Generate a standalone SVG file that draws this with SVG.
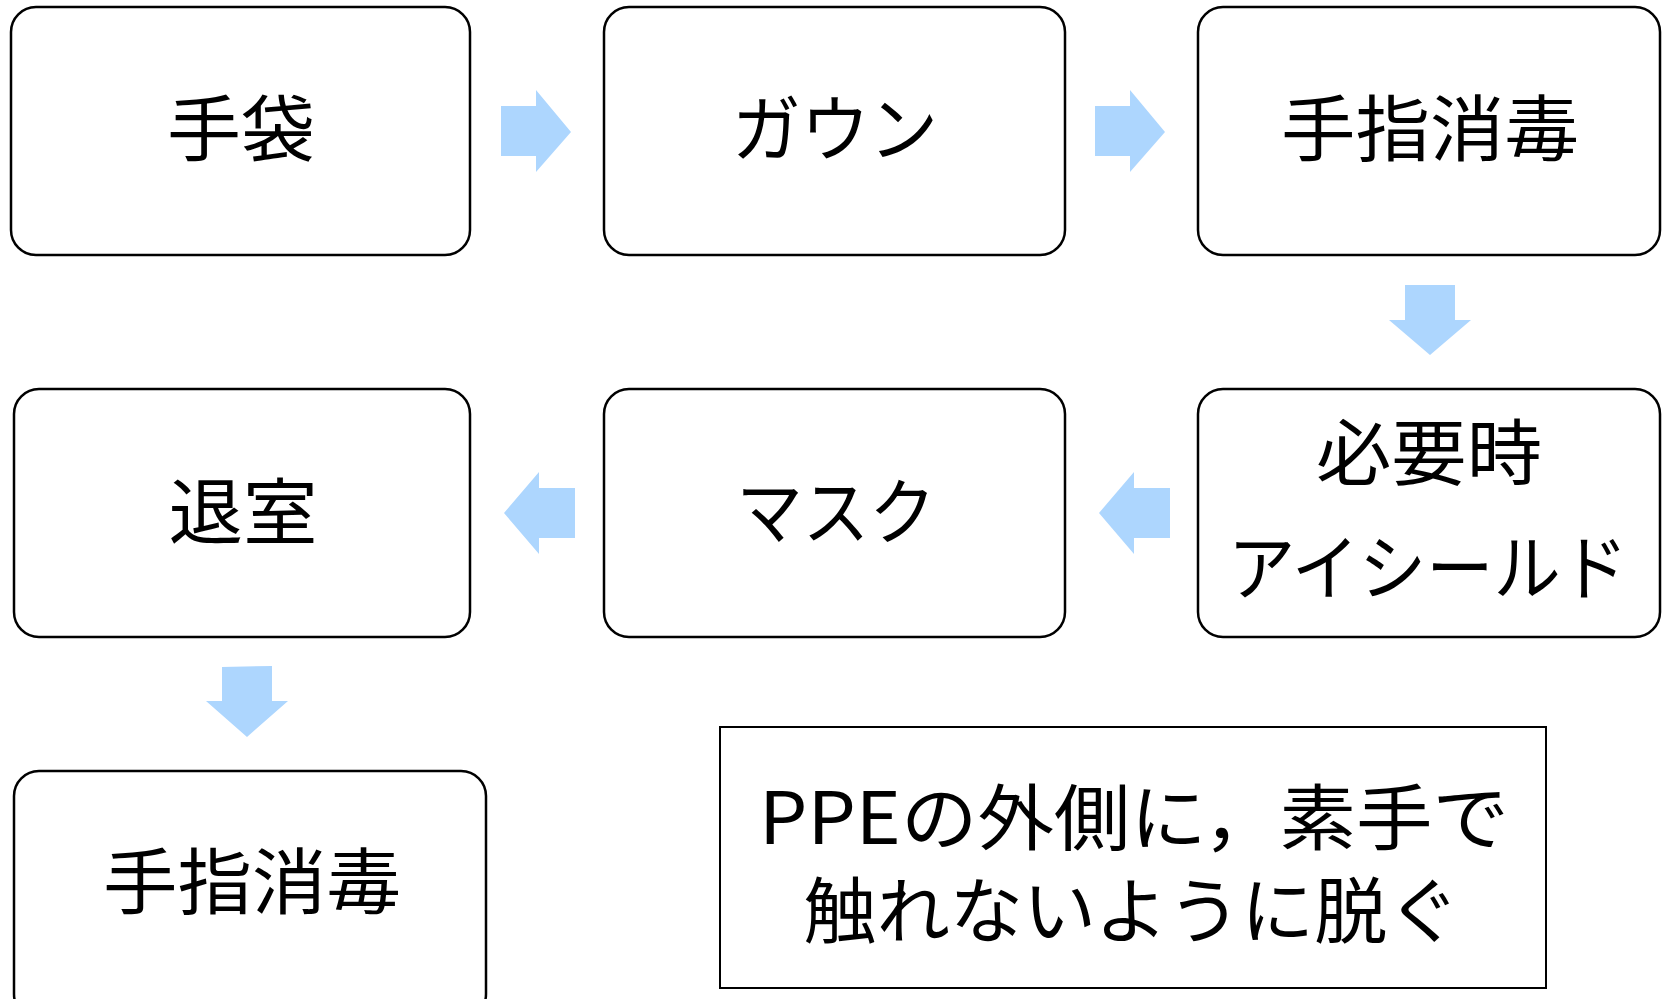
<svg xmlns="http://www.w3.org/2000/svg" width="1665" height="999" viewBox="0 0 1665 999">
<style>
.box{fill:#fff;stroke:#000;stroke-width:2.5}
.note{fill:#fff;stroke:#000;stroke-width:2}
.t{font-family:"Noto Sans CJK JP","Noto Sans",sans-serif;font-size:72px;fill:#000;text-anchor:middle}
.arr{fill:#ADD6FE}
</style>
<rect width="1665" height="999" fill="#fff"/>
<g id="connectors">
<polygon class="arr" points="501,106 536,106 536,90 571,132 536,172 536,156 501,156"/>
<polygon class="arr" points="1095,106 1130,106 1130,90 1165,132 1130,172 1130,156 1095,156"/>
<polygon class="arr" points="1405,285 1455,285 1455,320 1471,320 1430,355 1389,320 1405,320"/>
<polygon class="arr" points="1170,488 1134,488 1134,472 1099,513 1134,554 1134,538 1170,538"/>
<polygon class="arr" points="575,488 539,488 539,472 504,513 539,554 539,538 575,538"/>
<polygon class="arr" points="222,667 272,666 272,701 288,701 247,737 206,701 222,701"/>
</g>
<g id="n1"><rect class="box" x="11" y="7" width="459" height="248" rx="25"/><text class="t" x="241" y="155" textLength="148" lengthAdjust="spacingAndGlyphs">手袋</text></g>
<g id="n2"><rect class="box" x="604" y="7" width="461" height="248" rx="25"/><text class="t" x="835" y="155" textLength="206" lengthAdjust="spacingAndGlyphs">ガウン</text></g>
<g id="n3"><rect class="box" x="1198" y="7" width="462" height="248" rx="25"/><text class="t" x="1430" y="155" textLength="298" lengthAdjust="spacingAndGlyphs">手指消毒</text></g>
<g id="n4"><rect class="box" x="1198" y="389" width="462" height="248" rx="25"/><text class="t"><tspan x="1429" y="479" textLength="226" lengthAdjust="spacingAndGlyphs">必要時</tspan><tspan x="1428" y="594" textLength="400" lengthAdjust="spacingAndGlyphs">アイシールド</tspan></text></g>
<g id="n5"><rect class="box" x="604" y="389" width="461" height="248" rx="25"/><text class="t" x="836" y="538" textLength="199" lengthAdjust="spacingAndGlyphs">マスク</text></g>
<g id="n6"><rect class="box" x="14" y="389" width="456" height="248" rx="25"/><text class="t" x="243" y="538" textLength="149" lengthAdjust="spacingAndGlyphs">退室</text></g>
<g id="n7"><rect class="box" x="14" y="771" width="472" height="248" rx="25"/><text class="t" x="252" y="908" textLength="298" lengthAdjust="spacingAndGlyphs">手指消毒</text></g>
<g id="note"><rect class="note" x="720" y="727" width="826" height="261"/><text class="t"><tspan x="1134" y="844" textLength="750" lengthAdjust="spacingAndGlyphs">PPEの外側に，素手で</tspan><tspan x="1132" y="937" textLength="657" lengthAdjust="spacingAndGlyphs">触れないように脱ぐ</tspan></text></g>
</svg>
